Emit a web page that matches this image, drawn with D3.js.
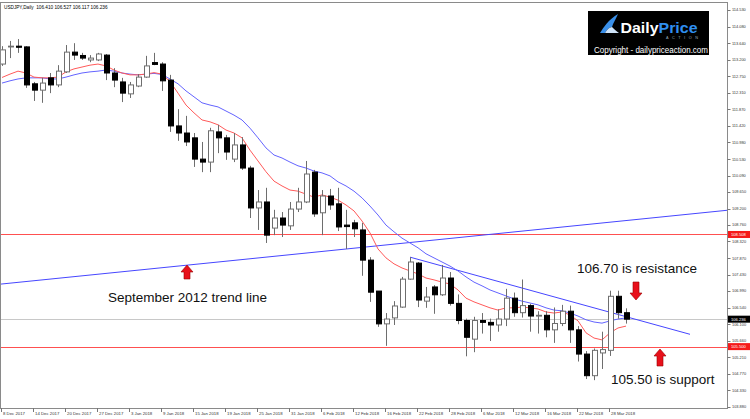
<!DOCTYPE html>
<html><head><meta charset="utf-8">
<script src="https://cdn.jsdelivr.net/npm/d3@7"></script>
<style>html,body{margin:0;padding:0;background:#fff;overflow:hidden}</style>
</head><body><svg id="c" width="750" height="419"></svg>
<script>
// ---------------- DATA ----------------
const dates = ["2017-12-08","2017-12-11","2017-12-12","2017-12-13","2017-12-14","2017-12-15","2017-12-18","2017-12-19","2017-12-20","2017-12-21",
"2017-12-22","2017-12-26","2017-12-27","2017-12-28","2017-12-29","2018-01-02","2018-01-03","2018-01-04","2018-01-05","2018-01-08",
"2018-01-09","2018-01-10","2018-01-11","2018-01-12","2018-01-15","2018-01-16","2018-01-17","2018-01-18","2018-01-19","2018-01-22",
"2018-01-23","2018-01-24","2018-01-25","2018-01-26","2018-01-29","2018-01-30","2018-01-31","2018-02-01","2018-02-02","2018-02-05",
"2018-02-06","2018-02-07","2018-02-08","2018-02-09","2018-02-12","2018-02-13","2018-02-14","2018-02-15","2018-02-16","2018-02-19",
"2018-02-20","2018-02-21","2018-02-22","2018-02-23","2018-02-26","2018-02-27","2018-02-28","2018-03-01","2018-03-02","2018-03-05",
"2018-03-06","2018-03-07","2018-03-08","2018-03-09","2018-03-12","2018-03-13","2018-03-14","2018-03-15","2018-03-16","2018-03-19",
"2018-03-20","2018-03-21","2018-03-22","2018-03-23","2018-03-26","2018-03-27","2018-03-28","2018-03-29","2018-03-30"];

const open = [113.08,113.54,113.56,113.54,112.55,112.38,112.71,112.52,112.87,113.40,
113.31,113.19,113.19,113.32,112.84,112.60,112.28,112.49,112.73,113.12,
113.08,112.65,111.42,111.23,111.10,110.53,110.45,111.26,111.10,110.53,
110.91,110.29,109.22,109.38,108.68,108.95,108.74,109.19,109.38,110.18,
109.09,109.54,109.33,108.76,108.82,108.63,107.82,106.99,106.11,106.27,
106.56,107.31,107.74,106.72,107.10,106.89,107.34,106.66,106.20,105.70,
106.20,106.15,106.08,106.24,106.80,106.41,106.60,106.32,106.34,105.95,
106.12,106.45,105.95,105.30,104.72,105.33,105.40,106.85,106.41];

const high = [113.56,113.70,113.75,113.56,112.60,112.71,112.84,113.05,113.59,113.64,
113.38,113.32,113.38,113.35,112.97,112.71,112.60,112.81,113.30,113.38,
113.13,112.79,111.87,111.69,111.23,110.99,111.37,111.45,111.18,111.23,
111.12,110.35,109.70,109.76,109.17,109.11,109.38,109.76,110.48,110.24,
109.70,109.73,109.76,109.17,108.90,108.82,107.90,106.99,106.40,106.72,
107.37,107.90,107.77,107.10,107.15,107.69,107.50,106.90,106.25,106.30,
106.40,106.25,106.50,107.05,106.95,107.30,106.65,106.45,106.45,106.55,
106.62,106.60,106.05,105.38,105.45,105.90,107.00,107.00,106.527];

const low = [113.03,113.24,113.38,112.44,112.09,112.04,112.30,112.46,112.84,113.19,
113.19,113.13,113.16,112.65,112.46,112.06,112.17,112.46,112.71,113.05,
112.36,111.26,111.02,110.88,110.32,110.18,110.18,110.69,110.51,110.45,
110.24,108.95,108.63,108.28,108.49,108.44,108.63,109.11,109.35,108.98,
108.49,109.17,108.60,108.12,108.44,107.40,106.70,106.03,105.52,106.08,
106.54,107.29,106.56,106.54,106.38,106.86,106.60,106.10,105.24,105.35,
105.85,105.65,105.90,106.05,106.30,106.28,105.90,105.85,105.75,105.60,
106.05,105.60,105.10,104.63,104.60,104.90,105.25,106.25,106.117];

const close = [113.46,113.56,113.53,112.52,112.38,112.57,112.52,112.89,113.40,113.32,
113.24,113.24,113.35,112.84,112.65,112.30,112.52,112.73,113.03,113.07,
112.63,111.42,111.23,110.99,110.53,110.45,111.29,111.10,110.72,110.91,
110.29,109.22,109.38,108.49,108.95,108.76,109.19,109.38,110.13,109.06,
109.54,109.30,108.71,108.72,108.66,107.82,106.96,106.11,106.24,106.59,
107.31,107.77,106.75,106.83,106.89,107.34,106.66,106.20,105.75,106.20,
106.15,106.08,106.24,106.80,106.41,106.60,106.32,106.34,105.95,106.12,
106.45,105.95,105.30,104.72,105.40,105.42,106.85,106.41,106.236];

// moving averages (red = fast, blue = slow)
const maFast = [112.72,112.81,112.89,112.84,112.73,112.71,112.71,112.73,112.87,112.95,
113.00,113.05,113.08,113.03,112.92,112.84,112.79,112.79,112.81,112.85,
112.81,112.61,112.30,111.98,111.77,111.58,111.53,111.45,111.31,111.23,
111.10,110.77,110.48,110.19,109.94,109.81,109.70,109.67,109.59,109.51,
109.57,109.51,109.43,109.30,109.14,108.87,108.55,108.12,107.88,107.72,
107.61,107.53,107.45,107.34,107.29,107.23,107.18,107.02,106.80,106.70,
106.62,106.54,106.48,106.54,106.54,106.56,106.54,106.51,106.43,106.40,
106.43,106.35,106.19,105.87,105.73,105.68,105.87,106.00,106.05];

const maSlow = [112.57,112.63,112.68,112.71,112.71,112.71,112.68,112.68,112.73,112.79,
112.84,112.87,112.89,112.92,112.89,112.84,112.81,112.79,112.81,112.83,
112.80,112.68,112.55,112.36,112.20,112.04,111.98,111.93,111.82,111.71,
111.58,111.36,111.10,110.83,110.64,110.56,110.45,110.35,110.29,110.21,
110.16,110.08,109.92,109.81,109.67,109.49,109.27,109.03,108.76,108.58,
108.41,108.28,108.15,107.99,107.88,107.77,107.66,107.53,107.37,107.23,
107.13,107.02,106.94,106.86,106.78,106.72,106.67,106.62,106.54,106.48,
106.46,106.40,106.32,106.22,106.16,106.13,106.19,106.24,106.27];

const priceTicks = [114.530,114.080,113.640,113.200,112.750,112.310,111.870,111.420,110.980,110.530,
110.090,109.650,109.200,108.760,108.320,107.870,107.430,106.990,106.540,106.100,105.660,105.210,104.770,104.330,103.880];

const dateTicks = ["2017-12-08","2017-12-14","2017-12-20","2017-12-27","2018-01-03","2018-01-09","2018-01-15","2018-01-19",
"2018-01-25","2018-01-31","2018-02-06","2018-02-12","2018-02-16","2018-02-22","2018-02-28","2018-03-06","2018-03-12",
"2018-03-16","2018-03-22","2018-03-28"];

const levels = [108.508, 105.500];          // red horizontal lines
const lastPrice = 106.236;
const header = "USDJPY,Daily  106.410 106.527 106.117 106.236";

// trend lines: [bar index, price] end points
const trendIdx = [-0.25, 90.625];  const trendPrice = [107.175, 109.157];
const resIdx = [51, 86];           const resPrice = [107.90, 105.83];

// ---------------- DRAW ----------------
const svg = d3.select('#c');
const W = 750, H = 419;
const plotR = 727, plotB = 408, plotT = 2;
const x = d3.scaleLinear().domain([0, 78]).range([2, 626]);
const y = d3.scaleLinear().domain([103.88, 114.53]).range([407, 10]);
const fmt = d3.timeFormat("%-d %b %Y"), parse = d3.timeParse("%Y-%m-%d");
const smallFont = "Liberation Sans, Arial, sans-serif";

svg.append('rect').attr('width', W).attr('height', H).attr('fill', '#fff');

svg.append('defs').append('clipPath').attr('id', 'pc')
  .append('rect').attr('x', 1).attr('y', plotT).attr('width', plotR - 1).attr('height', plotB - plotT);

const plot = svg.append('g').attr('clip-path', 'url(#pc)');

// current price line
plot.append('line').attr('x1', 0).attr('x2', plotR)
  .attr('y1', Math.round(y(lastPrice)) + 0.5).attr('y2', Math.round(y(lastPrice)) + 0.5)
  .attr('stroke', '#c8c8c8').attr('stroke-width', 1);

// horizontal levels
plot.selectAll('.lvl').data(levels).join('line').attr('class', 'lvl')
  .attr('x1', 0).attr('x2', plotR)
  .attr('y1', d => Math.round(y(d)) + 0.5).attr('y2', d => Math.round(y(d)) + 0.5)
  .attr('stroke', '#ff5050').attr('stroke-width', 1);

// trend lines
plot.append('line')
  .attr('x1', x(trendIdx[0])).attr('y1', y(trendPrice[0]))
  .attr('x2', x(trendIdx[1])).attr('y2', y(trendPrice[1]))
  .attr('stroke', '#4646ff').attr('stroke-width', 1);
plot.append('line')
  .attr('x1', x(resIdx[0])).attr('y1', y(resPrice[0]))
  .attr('x2', x(resIdx[1])).attr('y2', y(resPrice[1]))
  .attr('stroke', '#4646ff').attr('stroke-width', 1);

// moving averages
const line = d3.line().x((d, i) => x(i)).y(d => y(d));
plot.append('path').attr('d', line(maSlow)).attr('fill', 'none').attr('stroke', '#6464ff').attr('stroke-width', 1);
plot.append('path').attr('d', line(maFast)).attr('fill', 'none').attr('stroke', '#ff5a5a').attr('stroke-width', 1);

// candles
const idx = d3.range(dates.length);
const cg = plot.append('g');
cg.selectAll('.wick').data(idx).join('line').attr('class', 'wick')
  .attr('x1', i => Math.round(x(i)) + 0.5).attr('x2', i => Math.round(x(i)) + 0.5)
  .attr('y1', i => y(high[i])).attr('y2', i => y(low[i]))
  .attr('stroke', '#6e6e6e').attr('stroke-width', 1);
cg.selectAll('.body').data(idx).join('rect').attr('class', 'body')
  .attr('x', i => Math.round(x(i)) - 2 + 0.5)
  .attr('width', 5)
  .attr('y', i => y(Math.max(open[i], close[i])))
  .attr('height', i => Math.max(0.8, Math.abs(y(open[i]) - y(close[i]))))
  .attr('fill', i => close[i] >= open[i] ? '#fff' : '#000')
  .attr('stroke', i => close[i] >= open[i] ? '#6e6e6e' : '#000')
  .attr('stroke-width', 1);

// frame
svg.append('rect').attr('x', 0.5).attr('y', plotT + 0.5).attr('width', plotR).attr('height', plotB - plotT)
  .attr('fill', 'none').attr('stroke', '#8a8a8a').attr('stroke-width', 1);

// price axis
const pa = svg.append('g');
pa.selectAll('.pt').data(priceTicks).join('line').attr('class', 'pt')
  .attr('x1', plotR + 0.5).attr('x2', plotR + 3.5)
  .attr('y1', d => Math.round(y(d)) + 0.5).attr('y2', d => Math.round(y(d)) + 0.5)
  .attr('stroke', '#777');
pa.selectAll('.pl').data(priceTicks).join('text').attr('class', 'pl')
  .attr('x', 732).attr('y', d => y(d) + 1.4)
  .attr('font-family', smallFont).attr('font-size', 3.9).attr('fill', '#333')
  .text(d => d.toFixed(3));

// highlighted price labels
function tag(v, col) {
  const g = svg.append('g');
  g.append('rect').attr('x', 728).attr('y', y(v) - 3.5).attr('width', 22).attr('height', 7).attr('fill', col);
  g.append('text').attr('x', 731).attr('y', y(v) + 1.5)
    .attr('font-family', smallFont).attr('font-size', 4.1).attr('fill', '#fff').text(v.toFixed(3));
}
levels.forEach(v => tag(v, '#f51a1a'));
tag(lastPrice, '#000');

// date axis
const da = svg.append('g');
const tickIdx = dateTicks.map(d => dates.indexOf(d));
da.selectAll('.dt').data(tickIdx).join('line').attr('class', 'dt')
  .attr('x1', i => Math.round(x(i)) - 0.5).attr('x2', i => Math.round(x(i)) - 0.5)
  .attr('y1', plotB).attr('y2', plotB + 4).attr('stroke', '#777');
da.selectAll('.dl').data(tickIdx).join('text').attr('class', 'dl')
  .attr('x', i => x(i) + 1).attr('y', 414.5)
  .attr('font-family', smallFont).attr('font-size', 4.3).attr('fill', '#333')
  .text(i => fmt(parse(dates[i])));

// header
svg.append('text').attr('x', 4).attr('y', 9).attr('font-family', smallFont)
  .attr('font-size', 4.7).attr('fill', '#000').attr('xml:space', 'preserve').text(header);

// logo
const lg = svg.append('g');
lg.append('rect').attr('x', 588).attr('y', 11).attr('width', 121).attr('height', 44).attr('fill', '#000');
lg.append('path').attr('d', 'M600,33 C604,27 608,20 618,14 C616,19 613,23 612,27 C610,27 607,29 605,33 Z').attr('fill', '#3a8fe8');
lg.append('path').attr('d', 'M605,33 C607,29 610,27 612,27 C614,29 616,31 619,33 Z').attr('fill', '#cfe3f7');
lg.append('text').attr('x', 620.5).attr('y', 33).attr('font-family', 'Liberation Sans, Arial, sans-serif')
  .attr('font-weight', 'bold').attr('font-size', 14.5).attr('textLength', 77).attr('lengthAdjust', 'spacingAndGlyphs')
  .html('<tspan fill="#fff">Daily</tspan><tspan fill="#2f8ff0">Price</tspan>');
lg.append('text').attr('x', 666).attr('y', 38.5).attr('font-family', smallFont).attr('font-size', 3.8)
  .attr('fill', '#9ab').attr('textLength', 32).text('A C T I O N');
lg.append('text').attr('x', 594).attr('y', 52.5).attr('font-family', 'Liberation Sans, Arial, sans-serif')
  .attr('font-size', 9).attr('fill', '#fff').attr('textLength', 114).attr('lengthAdjust', 'spacingAndGlyphs')
  .text('Copyright - dailypriceaction.com');

// annotations
function upArrow(cx, tip, bottom) {
  const hb = tip + 7;
  return `M${cx},${tip} L${cx + 6},${hb} L${cx + 3},${hb} L${cx + 3},${bottom} L${cx - 3},${bottom} L${cx - 3},${hb} L${cx - 6},${hb} Z`;
}
function downArrow(cx, top, tip) {
  const hb = tip - 7;
  return `M${cx},${tip} L${cx + 6},${hb} L${cx + 3},${hb} L${cx + 3},${top} L${cx - 3},${top} L${cx - 3},${hb} L${cx - 6},${hb} Z`;
}
const ann = svg.append('g');
ann.append('path').attr('d', upArrow(187, 265, 279)).attr('fill', '#e8101a').attr('stroke', '#900').attr('stroke-width', 0.6);
ann.append('path').attr('d', downArrow(636, 282, 300)).attr('fill', '#e8101a').attr('stroke', '#900').attr('stroke-width', 0.6);
ann.append('path').attr('d', upArrow(660, 349, 366)).attr('fill', '#e8101a').attr('stroke', '#900').attr('stroke-width', 0.6);
const af = 'Liberation Sans, Arial, sans-serif';
ann.append('text').attr('x', 108).attr('y', 302).attr('font-family', af).attr('font-size', 13.5).attr('fill', '#111').text('September 2012 trend line');
ann.append('text').attr('x', 577).attr('y', 273).attr('font-family', af).attr('font-size', 13.5).attr('fill', '#111').text('106.70 is resistance');
ann.append('text').attr('x', 611).attr('y', 384).attr('font-family', af).attr('font-size', 13.5).attr('fill', '#111').text('105.50 is support');
</script>
</body></html>
